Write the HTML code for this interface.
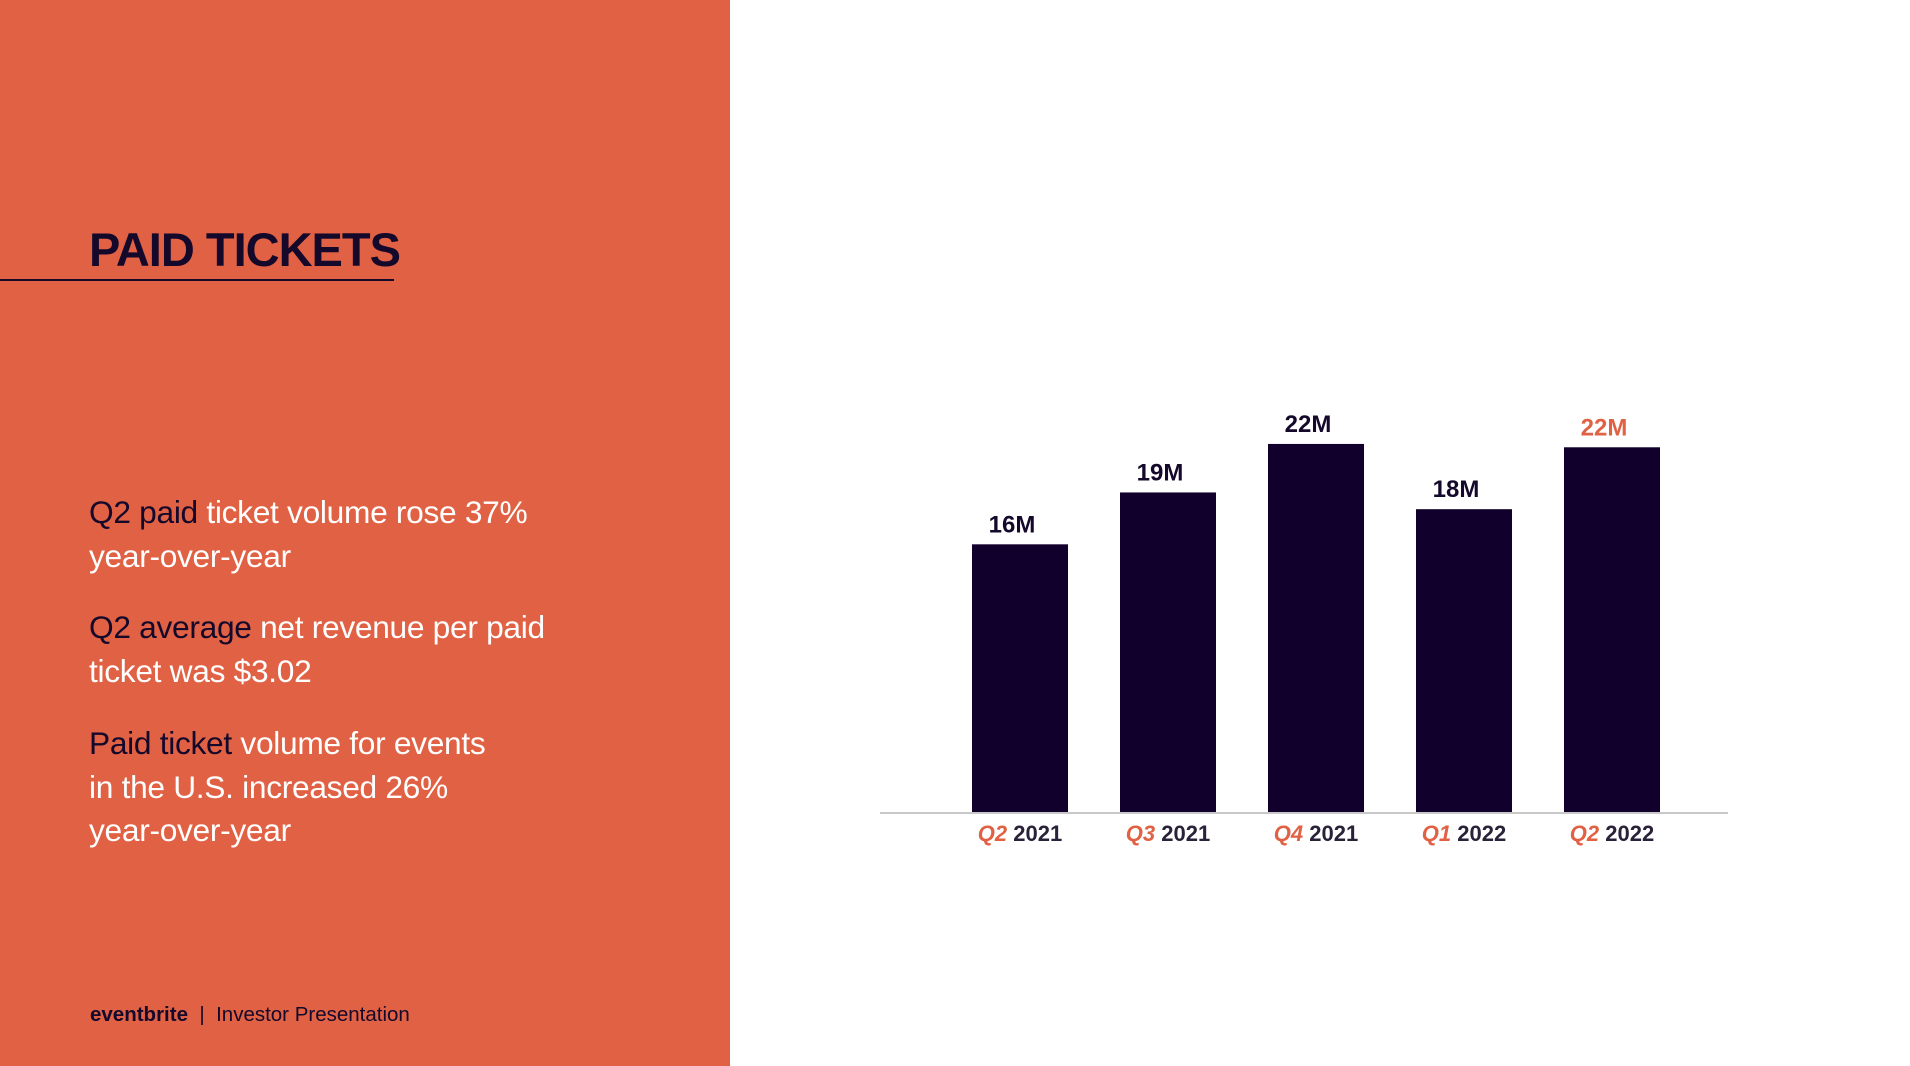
<!DOCTYPE html>
<html><head><meta charset="utf-8">
<style>
html,body{margin:0;padding:0}
body{width:1910px;height:1066px;position:relative;background:#fff;font-family:"Liberation Sans",sans-serif;overflow:hidden}
#panel{position:absolute;left:0;top:0;width:730px;height:1066px;background:#e06143}
#title{position:absolute;left:89px;top:222px;font-size:47px;font-weight:bold;color:#14082b;letter-spacing:-1px;margin:0}
#rule{position:absolute;left:0;top:279px;width:394px;height:2px;background:#14082b}
.bul{position:absolute;left:89px;font-size:31.7px;line-height:43.5px;color:#fff;margin:0;letter-spacing:-0.3px}
.bul b{font-weight:normal;color:#14082b}
#footer{position:absolute;left:90px;top:1003px;font-size:20.5px;color:#14082b}
svg{position:absolute;left:0;top:0}
</style></head><body>
<div id="panel"></div>
<h1 id="title">PAID TICKETS</h1>
<div id="rule"></div>
<p class="bul" style="top:491px"><b>Q2 paid</b> ticket volume rose 37%<br>year-over-year</p>
<p class="bul" style="top:606px"><b>Q2 average</b> net revenue per paid<br>ticket was $3.02</p>
<p class="bul" style="top:722px"><b>Paid ticket</b> volume for events<br>in the U.S. increased 26%<br>year-over-year</p>
<div id="footer"><span style="font-weight:bold">eventbrite</span>&nbsp; | &nbsp;Investor Presentation</div>
<svg id="chart" width="1910" height="1066"></svg>
<script>
const quarters=["Q2","Q3","Q4","Q1","Q2"];
const years=["2021","2021","2021","2022","2022"];
const values=[16.0,19.1,22.0,18.1,21.8];
const valueLabels=["16M","19M","22M","18M","22M"];
const NS="http://www.w3.org/2000/svg";
const svg=document.getElementById('chart');
const baseY=812, pxPerM=16.73, x0=972, step=148, bw=96;
function yScale(v){return baseY-v*pxPerM;}
function xScale(i){return x0+i*step;}
function mk(t,a){const e=document.createElementNS(NS,t);for(const k in a)e.setAttribute(k,a[k]);svg.appendChild(e);return e;}
values.forEach((v,i)=>{
  const r=mk('rect',{x:xScale(i),y:yScale(v),width:bw,height:baseY-yScale(v),fill:'#10002b'});
  
  
  const last=i===values.length-1;
  const t=mk('text',{x:xScale(i)+bw/2-8,y:yScale(v)-12,'text-anchor':'middle','font-size':24,'font-weight':'bold',fill:last?'#e06143':'#14082b'});
  t.textContent=valueLabels[i];
  
  
  const c=mk('text',{x:xScale(i)+bw/2,y:841,'text-anchor':'middle','font-size':22,'font-weight':'bold',fill:'#2a2238'});
  const q=document.createElementNS(NS,'tspan');q.setAttribute('fill','#e06143');q.setAttribute('font-style','italic');q.textContent=quarters[i];
  const yr=document.createElementNS(NS,'tspan');yr.textContent=' '+years[i];
  c.appendChild(q);c.appendChild(yr);
  
  
});
const ax=mk('line',{x1:880,x2:1728,y1:baseY+1,y2:baseY+1,stroke:'#c8c8c8','stroke-width':2});


</script>
</body></html>
